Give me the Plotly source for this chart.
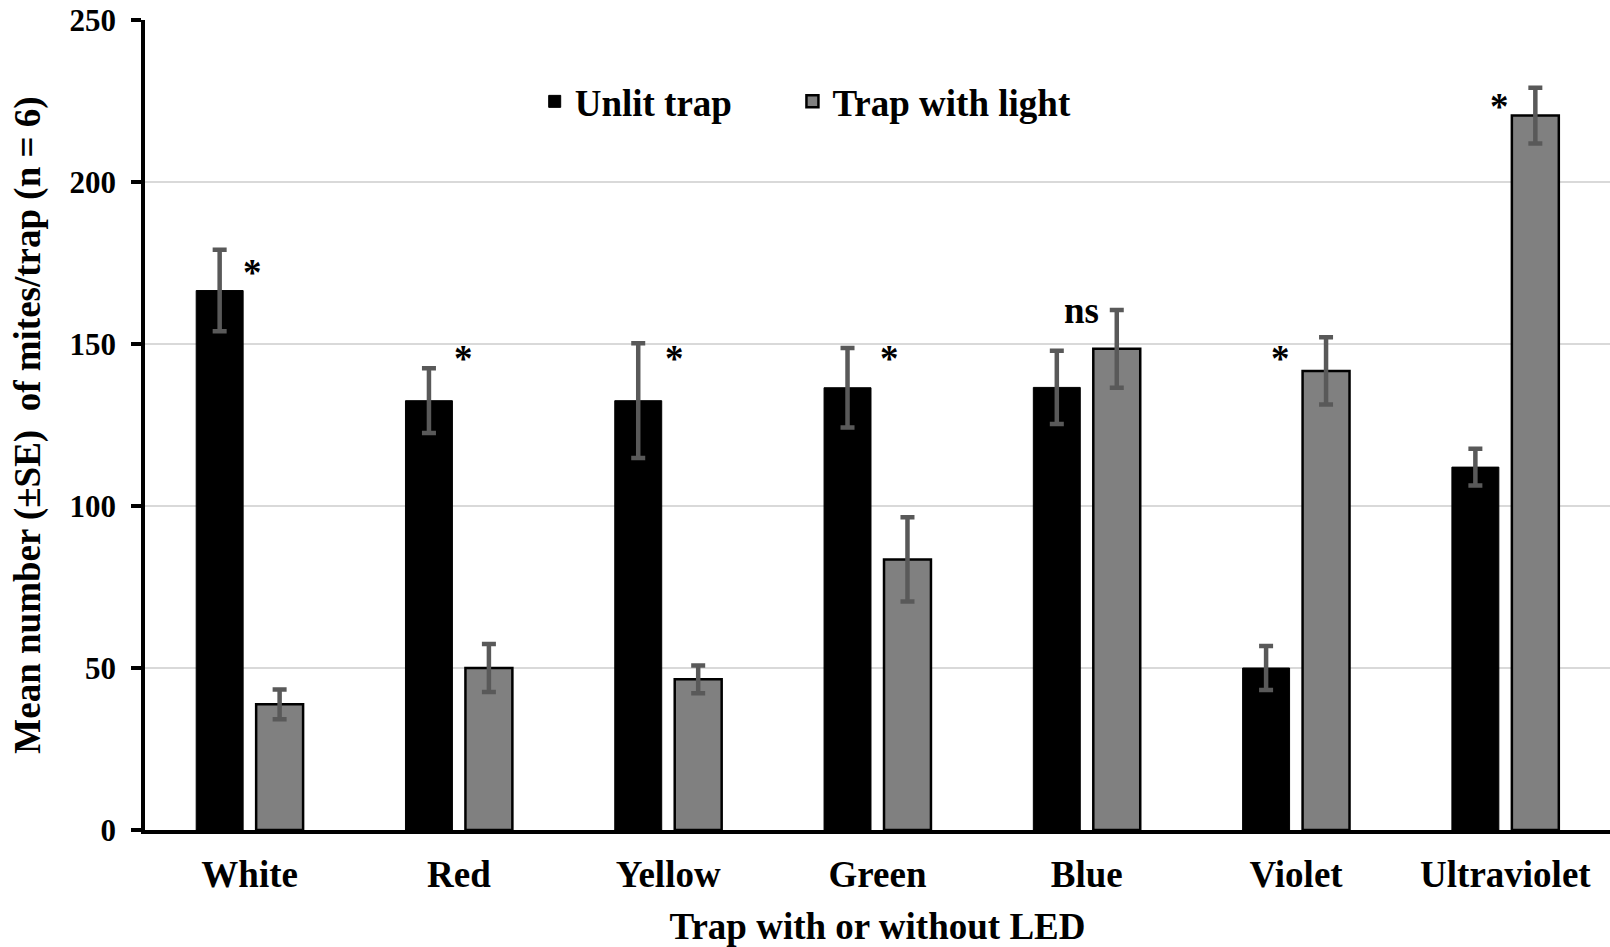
import plotly.graph_objects as go

# Mean mite catch per trap (n = 6) with standard errors
categories = ["White", "Red", "Yellow", "Green", "Blue", "Violet", "Ultraviolet"]
unlit_mean = [166.5, 132.5, 132.5, 136.5, 136.6, 50.0, 112.0]
unlit_se = [12.6, 10.0, 17.7, 12.3, 11.3, 6.8, 5.7]
light_mean = [38.8, 50.0, 46.5, 83.5, 148.5, 141.7, 220.5]
light_se = [4.6, 7.4, 4.3, 13.0, 12.0, 10.4, 8.6]

# Significance labels per colour pair
sig_labels = ["*", "*", "*", "*", "ns", "*", "*"]
sig_y = [172.8, 146.0, 146.0, 146.0, 160.0, 146.0, 224.0]
sig_dx = [3, 5, 6, 12, -5, -16, -6]

FONT = "Liberation Serif"
BOLD = dict(family=FONT, color="#000000", weight="bold")
err_style = dict(type="data", visible=True, color="#595959", thickness=4.5, width=7)
PAD = "\u00a0" * 6  # spacing between the two legend entries

fig = go.Figure()
fig.add_trace(go.Bar(
    name="Unlit trap" + PAD, x=categories, y=unlit_mean,
    error_y=dict(array=unlit_se, **err_style),
    marker=dict(color="#000000", line=dict(color="#000000", width=1)),
))
fig.add_trace(go.Bar(
    name="Trap with light", x=categories, y=light_mean,
    error_y=dict(array=light_se, **err_style),
    marker=dict(color="#808080", line=dict(color="#000000", width=2.5)),
))

for cat, lab, yv, dx in zip(categories, sig_labels, sig_y, sig_dx):
    fig.add_annotation(
        x=cat, y=yv, text=lab, showarrow=False,
        xshift=dx, yshift=-2 if lab == "*" else 1,
        font=dict(size=37, **BOLD),
    )

fig.update_layout(
    width=1610, height=947,
    margin=dict(l=145, r=0, t=20, b=117),
    paper_bgcolor="white", plot_bgcolor="white",
    barmode="group", bargap=0.427, bargroupgap=0.217,
    font=dict(family=FONT, color="#000000"),
    legend=dict(
        orientation="h", x=0.266, y=0.899, xanchor="left", yanchor="middle",
        font=dict(size=37, **BOLD),
        bgcolor="rgba(0,0,0,0)", itemclick=False,
    ),
    showlegend=True,
)

fig.update_xaxes(
    automargin=False,
    showline=True, linecolor="#000000", linewidth=4,
    ticks="", showgrid=False,
    tickfont=dict(size=37, **BOLD), ticklabelstandoff=9,
    title=dict(text="Trap with or without LED",
               font=dict(size=37, **BOLD), standoff=36),
)
fig.update_yaxes(
    automargin=False,
    range=[0, 250], tickvals=[0, 50, 100, 150, 200, 250],
    showline=True, linecolor="#000000", linewidth=3.5,
    ticks="outside", ticklen=10, tickwidth=3.5, tickcolor="#000000",
    showgrid=True, gridcolor="#d9d9d9", gridwidth=2,
    zeroline=False,
    tickfont=dict(size=31, **BOLD), ticklabelstandoff=9,
    title=dict(text="Mean number (±SE)\u00a0 of mites/trap (n = 6)",
               font=dict(size=37, **BOLD), standoff=19),
)

fig.write_html("out.html")
